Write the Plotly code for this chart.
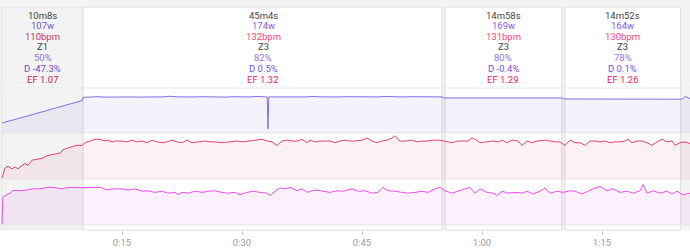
import plotly.graph_objects as go

# ---------------- data ----------------
interval_labels = ["10m8s", "45m4s", "14m58s", "14m52s"]
interval_minutes = [10 + 8/60, 45 + 4/60, 14 + 58/60, 14 + 52/60]
interval_watts = [107, 174, 169, 164]
interval_bpm = [110, 132, 131, 130]
interval_zone = ["Z1", "Z3", "Z3", "Z3"]
interval_pct = [50, 82, 80, 78]
interval_decoupling = ["-47.3%", "0.5%", "-0.4%", "0.1%"]
interval_ef = ["1.07", "1.32", "1.29", "1.26"]

tick_vals = [15, 30, 45, 60, 75]
tick_text = ["0:15", "0:30", "0:45", "1:00", "1:15"]

power_t = [0, 0.5, 1, 1.5, 2, 2.5, 3, 3.5, 4, 4.5, 5, 5.5, 6, 6.5, 7, 7.5, 8, 8.5, 9, 9.5, 10, 10.15,
           11, 12, 13, 14, 15, 16, 17, 18, 19, 20, 21, 22, 23, 24, 25, 26, 27, 28, 29, 30, 31, 32, 33,
           33.15, 33.25, 33.35, 34, 35, 36, 37, 38, 39, 40, 41, 42, 43, 44, 45, 46, 47, 48, 49, 50, 51,
           52, 53, 54, 55, 55.3, 56, 57, 58, 59, 60, 61, 62, 63, 64, 65, 66, 67, 68, 69, 70, 70.3, 71,
           72, 73, 74, 75, 76, 77, 78, 79, 80, 81, 82, 83, 84, 85, 85.4, 86]
power_w = [48, 52, 59, 64, 69, 75, 80, 86, 91, 97, 102, 107, 113, 118, 124, 129, 134, 140, 145, 151, 156, 172,
           174, 175, 173, 174, 176, 174, 173, 175, 174, 174, 177, 174, 173, 174, 175, 174, 174, 173, 175, 174, 174, 176, 174,
           174, 20, 174, 174, 173, 175, 174, 174, 176, 174, 173, 174, 175, 174, 174, 173, 174, 176, 174, 174, 175,
           174, 173, 174, 174, 169, 169, 170, 168, 169, 171, 169, 169, 168, 170, 169, 169, 171, 168, 169, 169, 164, 164,
           165, 163, 164, 166, 164, 163, 164, 165, 164, 163, 164, 166, 164, 163, 176, 166]

hr_t = [0, 0.38, 0.75, 1.25, 1.63, 2.0, 2.5, 2.88, 3.25, 3.75, 4.38, 5.0, 5.63, 6.0, 6.63, 7.25, 7.63, 8.25, 8.75,
        9.38, 10.0, 10.38, 11.0, 11.63, 12.25, 12.88, 13.25, 13.75, 14.13, 14.75, 15.63, 16.25, 16.88, 17.5, 18.13,
        18.75, 19.38, 20.0, 20.63, 21.25, 21.88, 22.5, 23.13, 23.75, 24.5, 25.38, 26.0, 26.63, 27.5, 28.25, 28.75,
        29.38, 30.13, 31.0, 31.88, 32.5, 33.13, 33.75, 34.38, 35.0, 35.63, 36.25, 36.88, 37.5, 38.13, 38.5, 39.13,
        39.75, 40.38, 41.0, 41.63, 42.25, 42.88, 43.5, 44.13, 45.0, 45.63, 46.25, 46.88, 47.5, 48.13, 48.75, 49.13,
        49.75, 50.38, 51.25, 51.88, 52.5, 53.25, 53.88, 54.75, 55.38, 56.25, 57.0, 57.63, 58.25, 58.75, 59.38, 59.75,
        60.63, 61.38, 62.0, 62.5, 63.13, 63.5, 63.88, 64.5, 65.0, 65.63, 66.25, 66.88, 67.88, 68.5, 69.13, 69.75,
        70.38, 71.0, 71.63, 72.25, 72.88, 73.5, 74.13, 74.75, 75.38, 76.0, 76.63, 77.25, 77.88, 78.25, 78.75, 79.38,
        80.0, 80.63, 81.25, 81.88, 82.5, 83.13, 83.75, 84.13, 84.75, 85.38, 86.0]
hr_bpm = [89.5, 101, 103, 100, 102, 100, 104, 106, 104, 110, 111, 112, 115, 116, 117, 118, 122, 124, 125,
          127, 127, 130, 132, 134, 134, 132, 133, 131, 132, 132, 131, 133, 131, 132, 130,
          133, 131, 130, 131, 133, 131, 130, 133, 130, 131, 132, 131, 131, 130, 131, 131,
          132, 131, 132, 133, 134, 132, 131, 127, 132, 133, 132, 132, 134, 130, 133, 131,
          132, 132, 132, 130, 132, 133, 132, 132, 133, 135.5, 132, 130, 132, 133, 135.5, 138,
          132, 132, 133, 131, 132, 132, 133, 133, 132, 130, 132, 132, 132, 135.5, 133, 130,
          131, 132, 131, 133, 130, 132, 133, 132, 127, 132, 130, 132, 133, 132, 131, 131,
          127, 133, 130, 130, 127, 132, 132, 131, 132, 130, 131, 131, 132, 134, 130, 132,
          132, 130, 127, 131, 134, 131, 132, 127, 130, 131, 129]

cad_t = [0, 0.1, 0.38, 1.0, 1.38, 2.25, 3.13, 3.88, 4.75, 5.75, 6.63, 7.5, 8.13, 8.88, 9.75, 10.63, 11.38, 12.25,
         13.13, 13.88, 15.0, 15.75, 16.63, 17.5, 18.25, 19.13, 20.0, 20.75, 21.63, 22.0, 22.5, 23.25, 24.13, 25.0,
         25.75, 26.63, 27.5, 28.25, 29.13, 29.75, 30.63, 31.38, 32.25, 33.13, 33.5, 34.13, 34.75, 35.38, 36.0,
         36.88, 37.5, 38.13, 38.75, 39.38, 40.13, 41.0, 41.88, 42.63, 43.75, 44.5, 45.38, 46.25, 47.0, 47.63,
         48.25, 49.13, 50.0, 50.75, 51.63, 52.5, 53.25, 54.13, 54.75, 55.38, 56.25, 57.0, 57.88, 58.5, 59.13,
         59.75, 60.63, 61.38, 61.88, 62.5, 63.25, 64.13, 65.0, 65.63, 66.38, 67.25, 67.88, 68.5, 69.38, 70.13,
         71.0, 71.63, 72.5, 73.25, 73.88, 74.75, 75.63, 76.38, 77.25, 78.13, 78.88, 79.75, 80.13, 80.63, 81.38,
         82.25, 83.13, 83.75, 84.38, 85.13, 86.0]
cad_rpm = [2, 70, 75, 81, 88, 87, 89, 92, 92, 96, 95, 92, 95, 96, 95, 96, 95, 96,
           89, 92, 92, 89, 92, 86, 87, 83, 86, 81, 83, 77, 83, 81, 86, 83,
           86, 87, 83, 81, 83, 77, 83, 86, 83, 81, 75, 86, 94, 92, 96,
           87, 92, 83, 87, 89, 86, 83, 87, 86, 92, 86, 87, 81, 83, 96,
           87, 86, 83, 81, 83, 86, 83, 92, 96, 87, 81, 86, 92, 96, 81,
           92, 83, 81, 75, 86, 81, 83, 81, 86, 79, 86, 94, 81, 86, 83,
           87, 86, 79, 87, 92, 98, 87, 92, 83, 86, 81, 87, 103, 81, 87,
           81, 86, 79, 86, 77, 81]

# ---------------- helpers ----------------
W, H = 690, 250
def py(p):  # pixel row -> paper fraction
    return 1 - p / H

X_RANGE = [-0.25, 86.0]
PX_PER_MIN = W / (X_RANGE[1] - X_RANGE[0])

starts, ends = [], []
acc = 0.0
for m in interval_minutes:
    starts.append(acc)
    acc += m
    ends.append(acc)

fig = go.Figure()

PURPLE = "#8a6be3"
RED = "#e2456f"
MAG = "#ee4ced"

fig.add_trace(go.Scatter(x=power_t, y=power_w, mode="lines", line=dict(color=PURPLE, width=1),
                         fill="tozeroy", fillcolor="rgba(120,100,220,0.08)", xaxis="x", yaxis="y",
                         hoverinfo="skip", showlegend=False))
fig.add_trace(go.Scatter(x=hr_t, y=hr_bpm, mode="lines", line=dict(color=RED, width=1),
                         fill="tozeroy", fillcolor="rgba(230,60,100,0.07)", xaxis="x", yaxis="y2",
                         hoverinfo="skip", showlegend=False))
fig.add_trace(go.Scatter(x=cad_t, y=cad_rpm, mode="lines", line=dict(color=MAG, width=1),
                         fill="tozeroy", fillcolor="rgba(240,60,240,0.07)", xaxis="x", yaxis="y3",
                         hoverinfo="skip", showlegend=False))
# invisible trace so the time axis is drawn
fig.add_trace(go.Scatter(x=[tick_vals[0]], y=[None], mode="lines", xaxis="x2", yaxis="y4",
                         hoverinfo="skip", showlegend=False))

shapes = []
shapes.append(dict(type="rect", xref="paper", yref="paper", x0=0, x1=1, y0=py(230), y1=1,
                   fillcolor="#f4f4f4", line=dict(width=0), layer="below"))
gap = 1.6 / PX_PER_MIN
for i, (s, e) in enumerate(zip(starts, ends)):
    if i == 0:
        shapes.append(dict(type="rect", xref="x", yref="paper", x0=s - 0.05, x1=e, y0=py(229), y1=py(7),
                           fillcolor="#f3f3f4", line=dict(color="#e6e6e6", width=1), layer="below"))
    else:
        shapes.append(dict(type="rect", xref="x", yref="paper", x0=s + (0 if i == 1 else gap), x1=e - gap,
                           y0=py(230), y1=py(7),
                           fillcolor="#ffffff", line=dict(color="#dddddd", width=1), layer="below"))
for p in [88, 133, 179, 225]:
    shapes.append(dict(type="line", xref="paper", yref="paper", x0=0, x1=1, y0=py(p), y1=py(p),
                       line=dict(color="#e9e9e9", width=1), layer="below"))

annotations = []
line_rows = [15, 25.7, 36.2, 47, 57.5, 68.5, 79.3]
for i in range(4):
    dim = (i == 0)
    texts = [
        (interval_labels[i], "#444444"),
        (f"{interval_watts[i]}w", "#6f56c9" if dim else "#7d5ce8"),
        (f"{interval_bpm[i]}bpm", "#c7356a" if dim else "#f0427c"),
        (interval_zone[i], "#444444"),
        (f"{interval_pct[i]}%", "#8a72d6" if dim else "#9276ea"),
        (f"D {interval_decoupling[i]}", "#6d4fd0" if dim else "#7352e6"),
        (f"EF {interval_ef[i]}", "#c21b50" if dim else "#ea225f"),
    ]
    cx = (starts[i] + ends[i]) / 2
    for (t, c), r in zip(texts, line_rows):
        annotations.append(dict(x=cx, y=py(r), xref="x", yref="paper", text=t, showarrow=False,
                                xanchor="center", yanchor="middle",
                                font=dict(family="Roboto", size=9.5, color=c)))

hidden = dict(showgrid=False, zeroline=False, showticklabels=False, showline=False, ticks="")
fig.update_layout(
    width=W, height=H, margin=dict(l=0, r=0, t=0, b=0),
    paper_bgcolor="#ffffff", plot_bgcolor="rgba(0,0,0,0)",
    xaxis=dict(domain=[0, 1], range=X_RANGE, anchor="y3", **hidden),
    xaxis2=dict(range=X_RANGE, anchor="free", position=py(230), side="bottom", overlaying="x",
                tickvals=tick_vals, ticktext=tick_text, ticks="outside", ticklen=4, tickcolor="#c4c4c4",
                showgrid=False, zeroline=False, showline=False,
                tickfont=dict(family="Roboto", size=9.5, color="#9a9a9a")),
    yaxis=dict(domain=[py(133), py(88)], range=[0, 217], anchor="x", **hidden),
    yaxis2=dict(domain=[py(179), py(133)], range=[88.3, 141.2], anchor="x", **hidden),
    yaxis3=dict(domain=[py(225), py(179)], range=[0, 117], anchor="x", **hidden),
    yaxis4=dict(domain=[py(225), py(179)], range=[0, 1], anchor="x2", overlaying="y3", **hidden),
    shapes=shapes, annotations=annotations,
)

fig.write_html("out.html")
